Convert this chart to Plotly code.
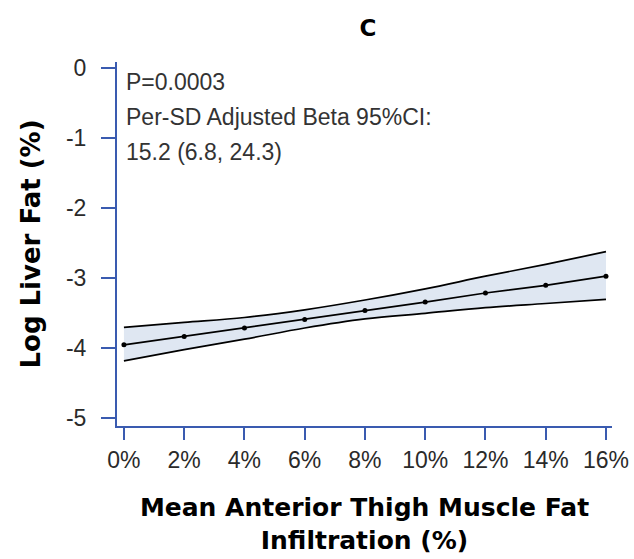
import plotly.graph_objects as go

x_pct = [0, 2, 4, 6, 8, 10, 12, 14, 16]
fit = [-3.95, -3.83, -3.71, -3.59, -3.46, -3.34, -3.21, -3.10, -2.97]
upper = [-3.70, -3.63, -3.56, -3.45, -3.31, -3.15, -2.97, -2.80, -2.62]
lower = [-4.18, -4.02, -3.87, -3.71, -3.58, -3.50, -3.42, -3.36, -3.30]
x_ticklabels = ["0%", "2%", "4%", "6%", "8%", "10%", "12%", "14%", "16%"]
y_ticks = [0, -1, -2, -3, -4, -5]
y_ticklabels = ["0", "-1", "-2", "-3", "-4", "-5"]
annot_lines = ["P=0.0003", "Per-SD Adjusted Beta 95%CI:", "15.2 (6.8, 24.3)"]

AX = "#3a5bb0"
BAND = "#dfe7f2"
TXT = "Liberation Sans, Arial"

fig = go.Figure()
fig.add_trace(go.Scatter(x=x_pct, y=lower, mode="lines", line=dict(color="black", width=1.7, shape="spline"),
                         showlegend=False, hoverinfo="skip"))
fig.add_trace(go.Scatter(x=x_pct, y=upper, mode="lines", line=dict(color="black", width=1.7, shape="spline"),
                         fill="tonexty", fillcolor=BAND, showlegend=False, hoverinfo="skip"))
fig.add_trace(go.Scatter(x=x_pct, y=fit, mode="lines+markers", line=dict(color="black", width=1.7),
                         marker=dict(color="black", size=5), showlegend=False))

for i, t in enumerate(annot_lines):
    fig.add_annotation(x=0, y=1, xref="paper", yref="paper", text=t, showarrow=False,
                       xanchor="left", yanchor="top", xshift=7, yshift=-5 - 35 * i,
                       font=dict(family=TXT, size=23, color="#333333"))

fig.update_layout(
    width=634, height=559,
    margin=dict(l=117, r=22, t=62, b=133),
    paper_bgcolor="white", plot_bgcolor="white",
    title=dict(text="<b>C</b>", x=368 / 634, xanchor="center", y=1 - 28 / 559, yanchor="middle",
               font=dict(family="DejaVu Sans", size=23, color="black")),
    xaxis=dict(range=[-0.23, 16.2], tickvals=x_pct, ticktext=x_ticklabels, showgrid=False, zeroline=False,
               automargin=False,
               showline=True, linecolor=AX, linewidth=2, ticks="outside", tickcolor=AX, tickwidth=2, ticklen=12,
               tickfont=dict(family=TXT, size=23, color="#2a2a2a"),
               title=dict(text="<b>Mean Anterior Thigh Muscle Fat<br>Infiltration (%)</b>",
                          font=dict(family="DejaVu Sans", size=25, color="black"), standoff=27)),
    yaxis=dict(range=[-5.11, 0.09], tickvals=y_ticks, ticktext=y_ticklabels, showgrid=False, zeroline=False,
               automargin=False,
               showline=True, linecolor=AX, linewidth=2, ticks="outside", tickcolor=AX, tickwidth=2, ticklen=14,
               ticklabelstandoff=10,
               tickfont=dict(family=TXT, size=23, color="#2a2a2a"),
               title=dict(text="<b>Log Liver Fat (%)</b>",
                          font=dict(family="DejaVu Sans", size=26, color="black"), standoff=18)),
)

fig.write_html("out.html", config={"displayModeBar": False},
               post_script="document.body.style.margin='0';")
